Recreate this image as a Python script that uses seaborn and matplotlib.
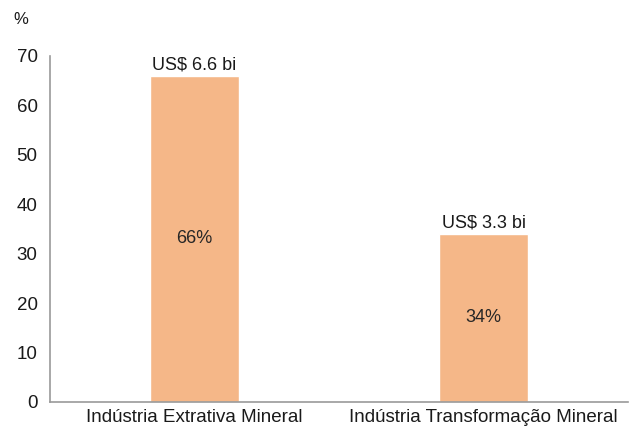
import matplotlib
matplotlib.use("Agg")
import matplotlib.pyplot as plt
import seaborn as sns
import pandas as pd

categories = ["Indústria Extrativa Mineral", "Indústria Transformação Mineral"]
shares = [66, 34]
values_label = ["US$ 6.6 bi", "US$ 3.3 bi"]
pct_label = ["66%", "34%"]

df = pd.DataFrame({"cat": categories, "share": shares})

sns.set_style("white")
plt.rcParams["font.family"] = ["Liberation Sans", "DejaVu Sans"]

fig = plt.figure(figsize=(6.29, 4.33), dpi=100)
ax = fig.add_axes([0.0795, 0.0716, 0.9190, 0.7991])

sns.barplot(data=df, x="cat", y="share", color="#F5B788", saturation=1,
            width=0.31, ax=ax)

ax.set_xlim(-0.5, 1.5)
ax.set_ylim(0, 70)
ax.set_yticks(range(0, 71, 10))
ax.set_xlabel("")
ax.set_ylabel("")

for i, (v, top, mid) in enumerate(zip(shares, values_label, pct_label)):
    ax.text(i, v + 0.5, top, ha="center", va="bottom", fontsize=13, color="#1a1a1a")
    ax.text(i, v / 2, mid, ha="center", va="center", fontsize=13, color="#262626")

for side in ["top", "right"]:
    ax.spines[side].set_visible(False)
for side in ["left", "bottom"]:
    ax.spines[side].set_color("#9a9a9a")
    ax.spines[side].set_linewidth(1.2)

ax.tick_params(axis="y", length=4, color="#9a9a9a", labelsize=13.5, labelcolor="#1a1a1a", pad=5)
ax.tick_params(axis="x", which="major", length=0, labelsize=13.5, labelcolor="#1a1a1a", pad=5)
ax.set_xticks([-0.5, 0.5, 1.5], minor=True)
ax.tick_params(axis="x", which="minor", length=4, color="#9a9a9a")

fig.text(0.022, 0.955, "%", fontsize=12, color="#1a1a1a", ha="left", va="center")

fig.savefig("out.png", dpi=100)
